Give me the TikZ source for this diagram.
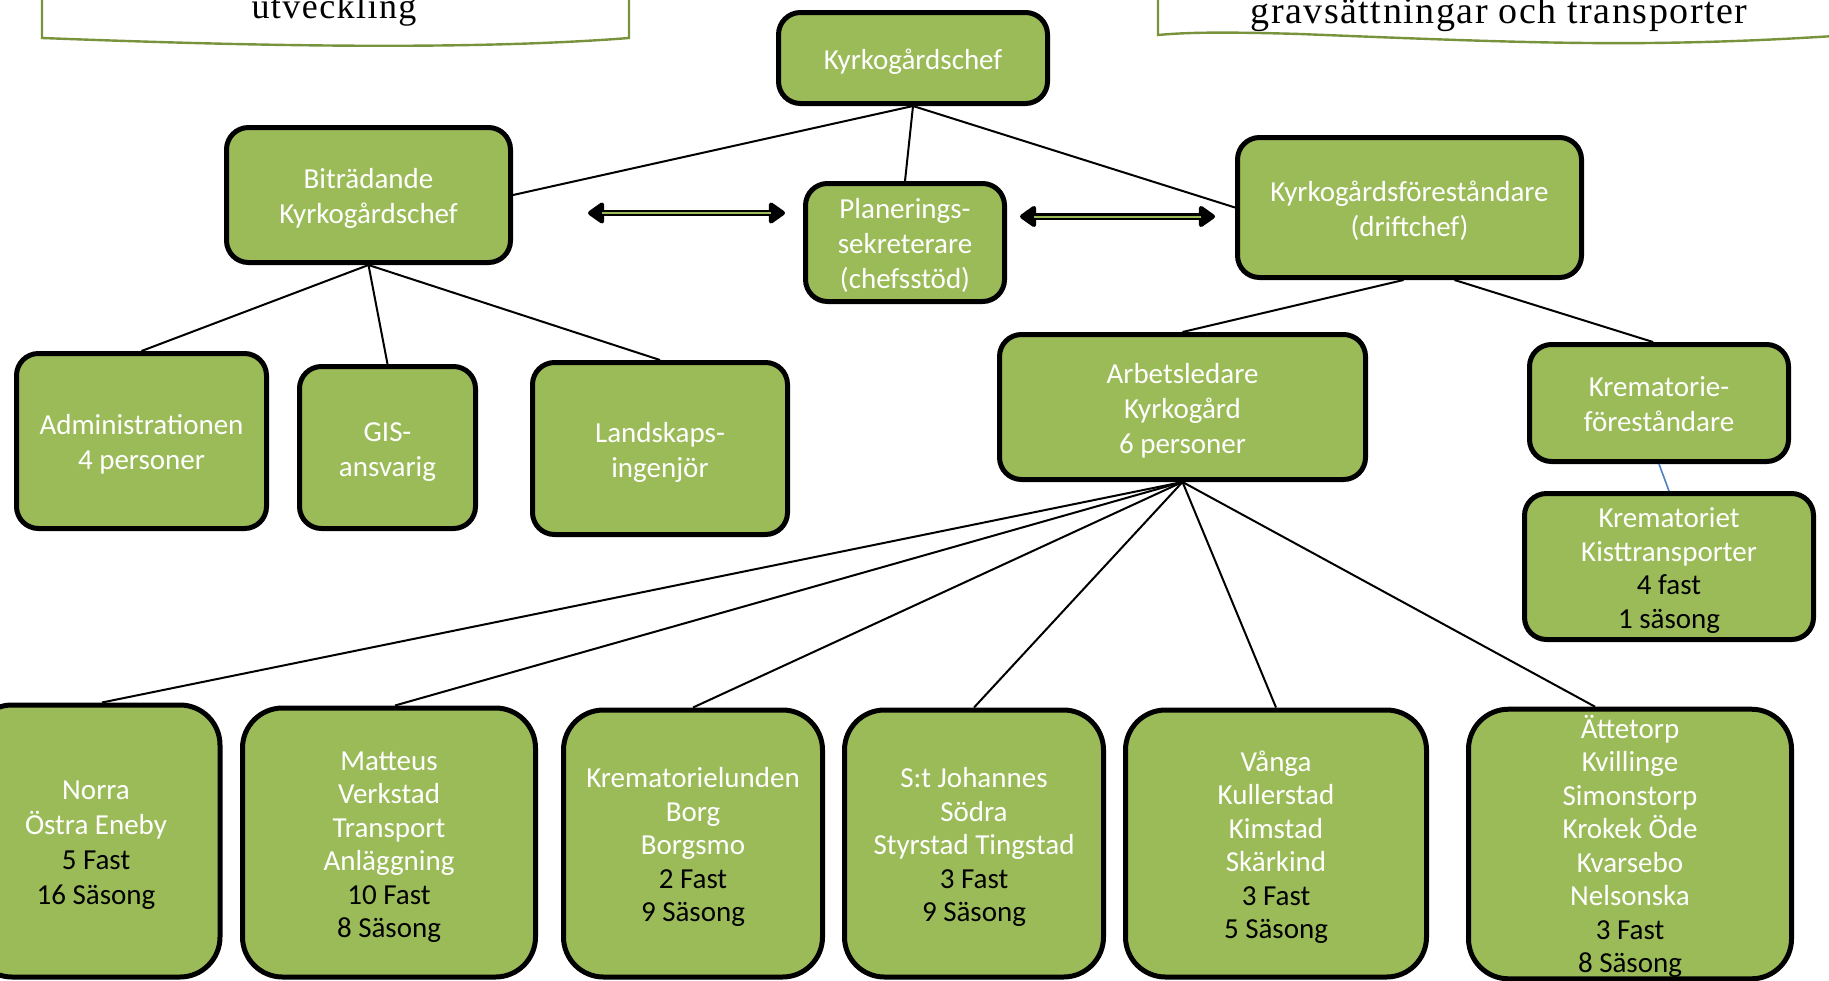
\documentclass[tikz,border=0pt]{standalone}
\usepackage{fontspec}
\setmainfont{Carlito}
\newfontfamily\docfont[LetterSpace=4]{Liberation Serif}
\usetikzlibrary{arrows.meta,calc}
\definecolor{boxgreen}{HTML}{9BBB59}
\definecolor{docgreen}{HTML}{77933C}
\definecolor{linkblue}{HTML}{4F81BD}
\newcommand{\blk}[1]{\textcolor{black}{#1}}
\newcommand{\tp}{\rule{0pt}{1.0em}}
\newcommand{\bt}{\rule[-0.21em]{0pt}{0pt}}
\begin{document}
\begin{tikzpicture}[x=0.5pt,y=-0.5pt,
  box/.style={draw=black, line width=2.5pt, fill=boxgreen, rounded corners=11pt,
    align=center, text=white, inner sep=0pt, font=\fontsize{14.5}{17.5}\selectfont},
  lowbox/.style={box, rounded corners=20pt, font=\fontsize{14.5}{16.75}\selectfont},
  link/.style={draw=black, line width=1pt},
  dbl/.style={draw=black, line width=3.4pt, {Triangle[length=9pt,width=12pt,round]}-{Triangle[length=9pt,width=12pt,round]}},
  dblin/.style={draw=boxgreen, line width=1pt},
  doc/.style={draw=docgreen, line width=1.2pt, fill=white},
  doctext/.style={font=\docfont\fontsize{19}{22}\selectfont, text=black, anchor=base, inner sep=0pt}
]
\useasboundingbox (0,0) rectangle (1829,980);

% document shapes at top
\draw[doc] (42,-30) -- (42,38) .. controls (200,44) and (450,52) .. (629,38) -- (629,-30);
\node[doctext, font=\docfont\fontsize{18}{22}\selectfont] (t1) at (334,18) {utveckling};
\draw[doc] (1158,-30) -- (1158,35) .. controls (1190,32) and (1230,32) .. (1300,34)
  .. controls (1450,40) and (1550,44) .. (1650,43) .. controls (1740,42) and (1800,38) .. (1835,36) -- (1835,-30);
\node[doctext] (t2) at (1499,23) {gravsättningar och transporter};

% nodes
\node[box, minimum width=134.5pt, minimum height=45.5pt] (chef) at (913,58) {\tp Kyrkogårdschef\bt};
\node[box, minimum width=142pt, minimum height=67.5pt] (bit) at (368.5,195) {\tp Biträdande\\Kyrkogårdschef\bt};
\node[box, minimum width=99.5pt, minimum height=59pt] (plan) at (905,242.5) {\tp Planerings-\\sekreterare\\(chefsstöd)\bt};
\node[box, minimum width=172pt, minimum height=70pt] (kf) at (1409.5,207.5) {\tp Kyrkogårdsföreståndare\\(driftchef)\bt};
\node[box, minimum width=125pt, minimum height=87.5pt] (adm) at (141.5,441) {\tp Administrationen\\4 personer\bt};
\node[box, minimum width=88pt, minimum height=81pt] (gis) at (387.5,447.5) {\tp GIS-\\ansvarig\bt};
\node[box, minimum width=127.5pt, minimum height=86pt] (land) at (660,448.5) {\tp Landskaps-\\ingenjör\bt};
\node[box, minimum width=183pt, minimum height=72.5pt] (arb) at (1182.5,407) {\tp Arbetsledare\\Kyrkogård\\6 personer\bt};
\node[box, minimum width=129.5pt, minimum height=58.5pt] (kremf) at (1659,403) {\tp Krematorie-\\föreståndare\bt};
\node[box, minimum width=144.5pt, minimum height=73pt, font=\fontsize{14.5}{16.75}\selectfont] (krem) at (1669,566.5) {\tp Krematoriet\\Kisttransporter\\\blk{4 fast}\\\blk{1 säsong}\bt};

\node[lowbox, minimum width=124pt, minimum height=136pt, font=\fontsize{14.5}{17.5}\selectfont] (norra) at (96,841) {\tp Norra\\Östra Eneby\\\blk{5 Fast}\\\blk{16 Säsong}\bt};
\node[lowbox, minimum width=146.5pt, minimum height=134.5pt] (matt) at (389,842.5) {\tp Matteus\\Verkstad\\Transport\\Anläggning\\\blk{10 Fast}\\\blk{8 Säsong}\bt};
\node[lowbox, minimum width=129.5pt, minimum height=133.5pt] (kreml) at (693,843.5) {\tp Krematorielunden\\Borg\\Borgsmo\\\blk{2 Fast}\\\blk{9 Säsong}\bt};
\node[lowbox, minimum width=129.5pt, minimum height=133.5pt] (stj) at (974,843.5) {\tp S:t Johannes\\Södra\\Styrstad Tingstad\\\blk{3 Fast}\\\blk{9 Säsong}\bt};
\node[lowbox, minimum width=150.5pt, minimum height=133.5pt] (vanga) at (1276,843.5) {\tp Vånga\\Kullerstad\\Kimstad\\Skärkind\\\blk{3 Fast}\\\blk{5 Säsong}\bt};
\node[lowbox, minimum width=161.5pt, minimum height=133pt] (atte) at (1630,844) {\tp Ättetorp\\Kvillinge\\Simonstorp\\Krokek Öde\\Kvarsebo\\Nelsonska\\\blk{3 Fast}\\\blk{8 Säsong}\bt};

% connectors
\draw[link] (chef.south) -- (bit.east);
\draw[link] (chef.south) -- (plan.north);
\draw[link] (chef.south) -- (kf.west);
\draw[link] (bit.south) -- (adm.north);
\draw[link] (bit.south) -- (gis.north);
\draw[link] (bit.south) -- (land.north);
\draw[link] ([xshift=-3pt]kf.south) -- (arb.north);
\draw[link] ([xshift=22.5pt]kf.south) -- ([xshift=-3pt]kremf.north);
\draw[draw=linkblue, line width=0.8pt] (kremf.south) -- (krem.north);
\draw[link] (arb.south) -- ([xshift=3pt]norra.north);
\draw[link] (arb.south) -- ([xshift=3pt]matt.north);
\draw[link] (arb.south) -- (kreml.north);
\draw[link] (arb.south) -- (stj.north);
\draw[link] (arb.south) -- (vanga.north);
\draw[link] (arb.south) -- ([xshift=-17.5pt]atte.north);

% double arrows
\coordinate (la1) at (588,213);
\coordinate (la2) at (785,213);
\coordinate (ra1) at (1020,216.5);
\coordinate (ra2) at (1215,216.5);
\draw[dbl] (la1) -- (la2);
\draw[dblin] ($(la1)+(14,0)$) -- ($(la2)+(-14,0)$);
\draw[dbl] (ra1) -- (ra2);
\draw[dblin] ($(ra1)+(14,0)$) -- ($(ra2)+(-14,0)$);
\end{tikzpicture}
\end{document}
